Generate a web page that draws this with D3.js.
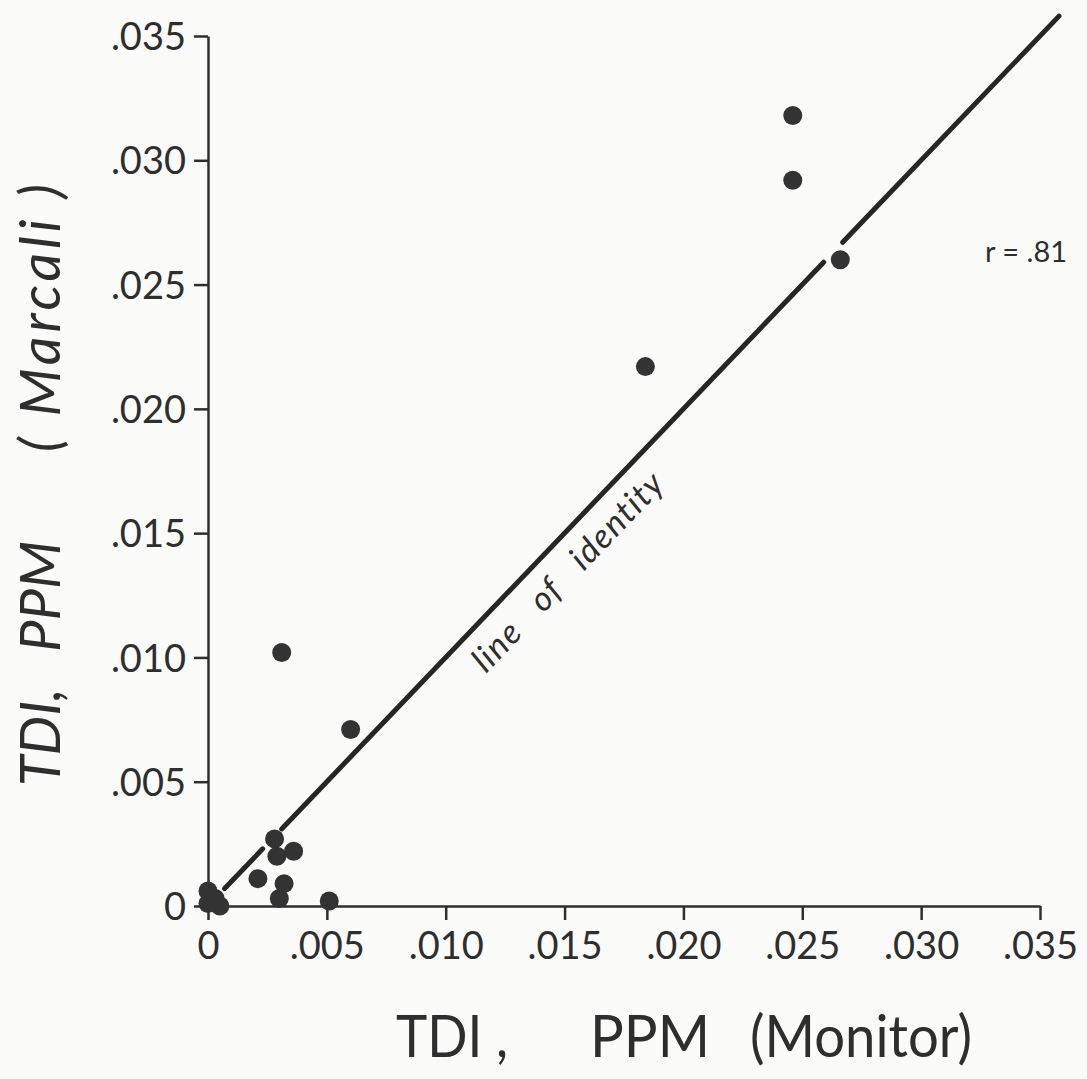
<!DOCTYPE html>
<html>
<head>
<meta charset="utf-8">
<script src="https://cdn.jsdelivr.net/npm/d3@7"></script>
<style>
	body { margin: 0; background: #fbfbfa; }
	svg { display: block; }
</style>
</head>
<body>
<script>
// TDI, PPM: monitor reading vs Marcali method
var monitorPpm = [0.0246, 0.0246, 0.0266, 0.0184, 0.0031, 0.0060, 0.0028, 0.0029, 0.0036, 0.0021, 0.0032, 0.0030, 0.0051, 0.0000, 0.0003, 0.0005, 0.0000];
var marcaliPpm = [0.0318, 0.0292, 0.0260, 0.0217, 0.0102, 0.0071, 0.0027, 0.0020, 0.0022, 0.0011, 0.0009, 0.0003, 0.0002, 0.0006, 0.0003, 0.0000, 0.0001];
var tickValues = [0, 0.005, 0.010, 0.015, 0.020, 0.025, 0.030, 0.035];
var tickLabels = ["0", ".005", ".010", ".015", ".020", ".025", ".030", ".035"];
// pieces of the drawn identity line (it is broken near the origin and around one point)
var identityPieces = [[0.0007, 0.0023], [0.0031, 0.0259], [0.0267, 0.0358]];

function drawChart(){
	var width = 1087, height = 1079;
	var ink = "#2e2e2e";
	var font = "Lato, 'Noto Sans', sans-serif";

	var svg = d3.select("body").append("svg").attr("width", width).attr("height", height);

	var x = d3.scaleLinear().domain([0, 0.035]).range([208, 1040]);
	var y = d3.scaleLinear().domain([0, 0.035]).range([906, 36]);

	var fmt = function (d){ return tickLabels[tickValues.indexOf(d)]; };

	var xAxis = svg.append("g").attr("transform", "translate(0," + y(0) + ")")
		.call(d3.axisBottom(x).tickValues(tickValues).tickFormat(fmt).tickSize(14).tickSizeOuter(0));
	xAxis.selectAll("text").attr("y", 26).attr("dy", "0.71em");

	var yAxis = svg.append("g").attr("transform", "translate(" + x(0) + ",0)")
		.call(d3.axisLeft(y).tickValues(tickValues).tickFormat(fmt).tickSize(14).tickSizeOuter(0));
	yAxis.selectAll("text").attr("x", -22).attr("dy", "0.36em");

	svg.selectAll(".domain, .tick line").attr("stroke", ink).attr("stroke-width", 2.5);
	svg.selectAll(".tick text").attr("fill", ink)
		.style("font-family", font)
		.style("font-size", "38px");

	// line of identity
	svg.selectAll("line.identity").data(identityPieces).enter().append("line")
		.attr("class", "identity")
		.attr("x1", function (d){ return x(d[0]); })
		.attr("y1", function (d){ return y(d[0]); })
		.attr("x2", function (d){ return x(d[1]); })
		.attr("y2", function (d){ return y(d[1]); })
		.attr("stroke", "#262626").attr("stroke-width", 5).attr("stroke-linecap", "round");

	var angle = -Math.atan2(y(0) - y(0.01), x(0.01) - x(0)) * 180 / Math.PI;
	svg.append("text")
		.attr("transform", "translate(486,674) rotate(" + angle + ")")
		.attr("fill", ink)
		.style("font-family", font).style("font-style", "italic")
		.style("font-size", "34px").style("letter-spacing", "1.5px").style("word-spacing", "18px")
		.text("line of identity");

	// points
	var pts = monitorPpm.map(function (d, i){ return [d, marcaliPpm[i]]; });
	svg.selectAll("circle").data(pts).enter().append("circle")
		.attr("cx", function (d){ return x(d[0]); })
		.attr("cy", function (d){ return y(d[1]); })
		.attr("r", 9.5)
		.style("fill", "#333");

	svg.append("text").attr("x", 985).attr("y", 262)
		.attr("fill", ink)
		.style("font-family", font).style("font-size", "29px")
		.text("r = .81");

	// x axis title
	var xParts = [["TDI ,", 396, 112], ["PPM", 590, 120], ["(Monitor)", 750, 222]];
	svg.selectAll("text.xtitle").data(xParts).enter().append("text")
		.attr("class", "xtitle")
		.attr("x", function (d){ return d[1]; }).attr("y", 1057)
		.attr("textLength", function (d){ return d[2]; }).attr("lengthAdjust", "spacingAndGlyphs")
		.attr("fill", ink)
		.style("font-family", font).style("font-size", "58px")
		.text(function (d){ return d[0]; });

	// y axis title
	var yParts = [["TDI,", 786], ["PPM", 652], ["( Marcali )", 452]];
	svg.selectAll("text.ytitle").data(yParts).enter().append("text")
		.attr("class", "ytitle")
		.attr("transform", "translate(60,0) rotate(-90)")
		.attr("x", function (d){ return -d[1]; })
		.attr("fill", ink)
		.style("font-family", font).style("font-style", "italic").style("font-size", "56px")
		.text(function (d){ return d[0]; });
	svg.selectAll("text.ytitle").filter(function (d){ return d[0].charAt(0) === "("; })
		.attr("textLength", 268).attr("lengthAdjust", "spacing");
}

drawChart();
</script>
</body>
</html>
